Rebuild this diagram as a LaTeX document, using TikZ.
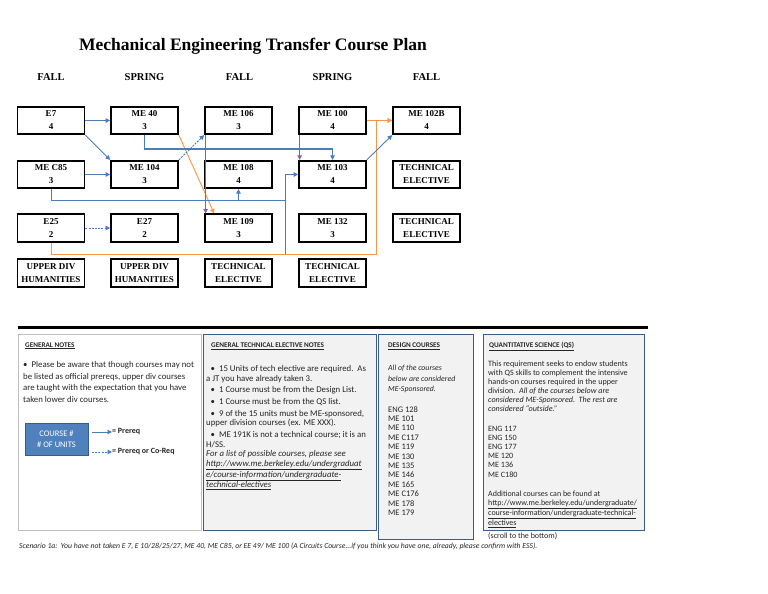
\documentclass[tikz,border=0pt]{standalone}
\usepackage{fontspec}
\setmainfont{Liberation Serif}
\newfontfamily\calfont{Carlito}
\usetikzlibrary{arrows.meta,calc}
\definecolor{arrblue}{HTML}{4A7EBB}
\definecolor{arrorange}{HTML}{F79646}
\definecolor{arrpurple}{HTML}{8064A2}
\definecolor{legfill}{HTML}{4F81BD}
\definecolor{legborder}{HTML}{385D8A}
\definecolor{panelfill}{HTML}{F2F2F2}
\definecolor{panelborder}{HTML}{385D8A}
\definecolor{notesborder}{HTML}{BFBFBF}
\definecolor{txt}{HTML}{262626}
\begin{document}
\begin{tikzpicture}[x=1pt,y=-1pt,
  course/.style={draw, line width=1.7pt, minimum width=67pt, minimum height=27.5pt, inner sep=0pt, align=center, font=\bfseries\fontsize{9}{13}\selectfont},
  tip/.style={-{Triangle[length=4.5pt,width=4.5pt]}},
  bl/.style={arrblue, line width=0.9pt, tip},
  orr/.style={arrorange, line width=0.9pt, tip},
  pu/.style={arrpurple, line width=0.9pt, tip},
  dsh/.style={dash pattern=on 2pt off 1.2pt},
  head/.style={anchor=base west, inner sep=0pt, text=txt, font=\calfont\bfseries\fontsize{7.2}{9}\selectfont},
  body/.style={anchor=north west, inner sep=0pt, align=left, text=txt},
  sem/.style={anchor=center, inner sep=0pt, font=\bfseries\fontsize{10.5}{12}\selectfont}
]
\useasboundingbox (0,0) rectangle (768,594);
\fill[white] (0,0) rectangle (768,594);

% title and semesters
\node[inner sep=0pt, font=\bfseries\fontsize{17.5}{20}\selectfont] (title) at (253,46) {Mechanical Engineering Transfer Course Plan};
\node[sem] (s1) at (51,77.5) {FALL};
\node[sem] (s2) at (144.5,77.5) {SPRING};
\node[sem] (s3) at (239.5,77.5) {FALL};
\node[sem] (s4) at (332.5,77.5) {SPRING};
\node[sem] (s5) at (426.5,77.5) {FALL};

% course boxes
\node[course] (e7) at (51,120.5) {E7\\4};
\node[course] (me40) at (144.5,120.5) {ME 40\\3};
\node[course] (me106) at (238.5,120.5) {ME 106\\3};
\node[course] (me100) at (332.5,120.5) {ME 100\\4};
\node[course] (me102b) at (426.5,120.5) {ME 102B\\4};
\node[course] (mec85) at (51,174.5) {ME C85\\3};
\node[course] (me104) at (144.5,174.5) {ME 104\\3};
\node[course] (me108) at (238.5,174.5) {ME 108\\4};
\node[course] (me103) at (332.5,174.5) {ME 103\\4};
\node[course] (te1) at (426.5,174.5) {TECHNICAL\\ELECTIVE};
\node[course] (e25) at (51,228) {E25\\2};
\node[course] (e27) at (144.5,228) {E27\\2};
\node[course] (me109) at (238.5,228) {ME 109\\3};
\node[course] (me132) at (332.5,228) {ME 132\\3};
\node[course] (te2) at (426.5,228) {TECHNICAL\\ELECTIVE};
\node[course, minimum height=28pt] (hum1) at (51,273.3) {UPPER DIV\\HUMANITIES};
\node[course, minimum height=28pt] (hum2) at (144.5,273.3) {UPPER DIV\\HUMANITIES};
\node[course, minimum height=28pt] (te3) at (238.5,273.3) {TECHNICAL\\ELECTIVE};
\node[course, minimum height=28pt] (te4) at (332.5,273.3) {TECHNICAL\\ELECTIVE};

% junction points
\coordinate (jA) at (285,200);
\coordinate (jB) at (285,254);
\coordinate (jC) at (376.7,254);

% orange connectors
\draw[orr] (e25.south) |- (jC) |- (me102b.west);
\draw[orr] (me100.east) -- (me102b.west);
\draw[orr] (me40.south east) -- ($(me109.north west)+(10,0)$);

% blue connectors
\draw[bl] (e7.east) -- (me40.west);
\draw[bl] (e7.south east) -- (me104.north west);
\draw[bl] (mec85.east) -- (me104.west);
\draw[arrblue, line width=0.9pt] (mec85.south) |- (jA);
\draw[bl] (me108.south |- jA) -- (me108.south);
\draw[bl] (jB) |- (me103.west);
\draw[bl, line width=1.3pt] (me40.south) -- ++(0,14) -| (me103.north);
\draw[bl, dsh] (me104.north east) -- (me106.south west);
\draw[bl, dsh] (e25.east) -- (e27.west);
\draw[bl] (me103.north east) -- (me102b.south west);

% purple connectors
\draw[pu] ($(me106.south west)+(1.5,0)$) -- ($(me109.north west)+(1.5,0)$);
\draw[pu] ($(me100.south west)+(1.5,0)$) -- ($(me103.north west)+(1.5,0)$);

% separator
\draw[line width=3pt] (18,327.5) -- (648,327.5);

% panels
\draw[notesborder, line width=0.8pt, fill=white] (18,334) rectangle (201,530);
\draw[panelborder, line width=1pt, fill=panelfill] (203.5,334) rectangle (376.5,530);
\draw[panelborder, line width=1pt, fill=panelfill] (378,334) rectangle (473,539);
\draw[panelborder, line width=1pt, fill=panelfill] (483,334) rectangle (644.5,530);

% general notes
\node[head] (gnh) at (25,347) {\underline{GENERAL NOTES}};
\node[body, font=\calfont\fontsize{8.8}{11.6}\selectfont] (gnb) at (23,361.4) {\textbullet\ \ Please be aware that though courses may not\\be listed as official prereqs, upper div courses\\are taught with the expectation that you have\\taken lower div courses.};
\node[draw=legborder, line width=1pt, fill=legfill, minimum width=63pt, minimum height=32pt, inner sep=0pt, align=center, text=white, font=\calfont\fontsize{8.5}{11.6}\selectfont] (leg) at (56.5,439) {COURSE \#\\\# OF UNITS};
\node[anchor=west, inner sep=0pt, text=txt, font=\calfont\bfseries\fontsize{8}{9}\selectfont] (lp1) at (112,432) {= Prereq};
\node[anchor=west, inner sep=0pt, text=txt, font=\calfont\bfseries\fontsize{8}{9}\selectfont] (lp2) at (112,452) {= Prereq or Co-Req};
\coordinate (la1) at (92,432);
\coordinate (la2) at (92,452);
\draw[bl] (la1) -- (lp1.west);
\draw[bl, dsh] (la2) -- (lp2.west);

% technical elective notes
\node[head] (teh) at (211,347.5) {\underline{GENERAL TECHNICAL ELECTIVE NOTES}};
\node[body, font=\calfont\fontsize{8.8}{9.6}\selectfont] (teb) at (206,365.3) {%
\hspace*{4.5pt}\textbullet\ \ 15 Units of tech elective are required.\ \ As\\
a JT you have already taken 3.\\[2.1pt]
\hspace*{4.5pt}\textbullet\ \ 1 Course must be from the Design List.\\[2.1pt]
\hspace*{4.5pt}\textbullet\ \ 1 Course must be from the QS list.\\[2.1pt]
\hspace*{4.5pt}\textbullet\ \ 9 of the 15 units must be ME-sponsored,\\
upper division courses (ex. ME XXX).\\[2.1pt]
\hspace*{4.5pt}\textbullet\ \ ME 191K is not a technical course; it is an\\
H/SS.\\
\textit{For a list of possible courses, please see}\\
\textit{\underline{http://www.me.berkeley.edu/undergraduat}}\\
\textit{\underline{e/course-information/undergraduate-}}\\
\textit{\underline{technical-electives}}};

% design courses
\node[head] (dch) at (388,347.5) {\underline{DESIGN COURSES}};
\node[body, font=\calfont\itshape\fontsize{7.8}{10.5}\selectfont] (dci) at (388,365) {All of the courses\\below are considered\\ME-Sponsored.};
\node[body, font=\calfont\fontsize{8.5}{9.4}\selectfont] (dcl) at (388,406.1) {ENG 128\\ME 101\\ME 110\\ME C117\\ME 119\\ME 130\\ME 135\\ME 146\\ME 165\\ME C176\\ME 178\\ME 179};

% quantitative science
\node[head] (qsh) at (489,347.5) {\underline{QUANTITATIVE SCIENCE (QS)}};
\node[body, font=\calfont\fontsize{8.1}{9.06}\selectfont] (qsb) at (488,360.8) {This requirement seeks to endow students\\with QS skills to complement the intensive\\hands-on courses required in the upper\\division.\ \ \textit{All of the courses below are}\\\textit{considered ME-Sponsored.\ \ The rest are}\\\textit{considered “outside.”}};
\node[body, font=\calfont\fontsize{8.1}{9.2}\selectfont] (qsl) at (488,425.6) {ENG 117\\ENG 150\\ENG 177\\ME 120\\ME 136\\ME C180};
\node[body, font=\calfont\fontsize{8}{8.8}\selectfont] (qsa) at (488,491) {Additional courses can be found at\\\underline{http://www.me.berkeley.edu/undergraduate/}\\\underline{course-information/undergraduate-technical-}\\\underline{electives}};
\node[anchor=base west, inner sep=0pt, text=txt, font=\calfont\fontsize{8}{9}\selectfont] (scroll) at (488,538.3) {(scroll to the bottom)};

% scenario
\node[anchor=base west, inner sep=0pt, text=txt, font=\calfont\itshape\fontsize{7.7}{8}\selectfont] (scen) at (19,548.5) {Scenario 1a:\ \ You have not taken E 7, E 10/28/25/27, ME 40, ME C85, or EE 49/ ME 100 (A Circuits Course...if you think you have one, already, please confirm with ESS).};
\end{tikzpicture}
\end{document}
